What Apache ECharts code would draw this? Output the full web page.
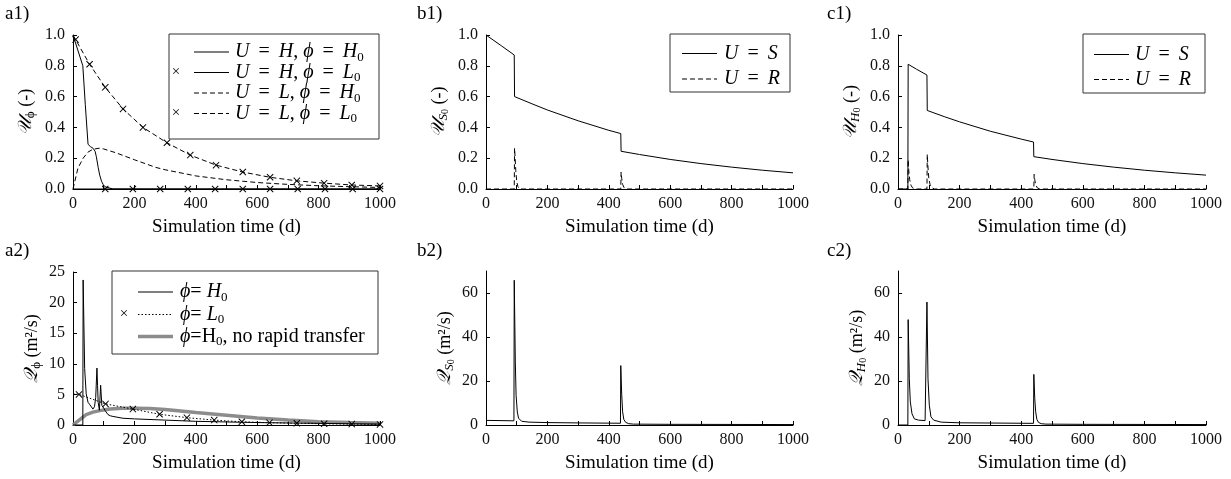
<!DOCTYPE html>
<html>
<head>
<meta charset="utf-8">
<script src="https://cdn.jsdelivr.net/npm/echarts@6/dist/echarts.min.js"></script>
<style>
  html, body { margin: 0; padding: 0; background: #fff; }
  #chart { width: 1231px; height: 479px; }
</style>
</head>
<body>
<div id="chart"></div>
<script>
// ---- data (time in days) ----
// a1) U_phi
const a1_t_HH = [0, 32, 40, 49, 57, 65, 72, 76, 82, 87, 93, 98, 104, 110, 130, 1000];
const a1_v_HH = [1.0, 0.80, 0.55, 0.29, 0.275, 0.265, 0.245, 0.21, 0.14, 0.09, 0.05, 0.03, 0.015, 0.005, 0, 0];
const a1_t_HL = [0, 105, 195, 284, 374, 463, 553, 642, 732, 821, 911, 1000];
const a1_v_HL = [0, 0, 0, 0, 0, 0, 0, 0, 0, 0, 0, 0];
const a1_t_LH = [0, 16, 33, 49, 65, 85, 100, 140, 200, 270, 300, 400, 500, 600, 700, 800, 900, 1000];
const a1_v_LH = [0, 0.135, 0.2, 0.24, 0.258, 0.265, 0.26, 0.235, 0.19, 0.14, 0.125, 0.085, 0.06, 0.042, 0.03, 0.021, 0.015, 0.01];
const a1_t_LL = [0, 8.5, 54, 105, 163, 228, 306, 382, 466, 553, 642, 729, 818, 908, 1000];
const a1_v_LL = [1.0, 0.97, 0.81, 0.66, 0.52, 0.40, 0.30, 0.22, 0.155, 0.11, 0.076, 0.053, 0.038, 0.026, 0.02];

// a2) Q_phi
const a2_t_H0 = [0, 32, 33, 38, 43, 49, 55, 60, 65, 70, 74, 78, 80, 82, 86, 90, 94, 100, 104, 108, 114, 122, 130, 163, 200, 300, 400, 500, 600, 700, 800, 900, 1000];
const a2_v_H0 = [0, 0, 23.7, 9.2, 5.1, 3.7, 3.3, 3.2, 2.6, 3.0, 4.5, 9.3, 6.5, 3.7, 2.4, 6.5, 3.2, 2.8, 2.4, 2.1, 1.7, 1.5, 1.4, 1.1, 1.0, 0.8, 0.6, 0.5, 0.4, 0.33, 0.27, 0.2, 0.15];
const a2_t_L0 = [0, 19.5, 106, 195, 282, 371, 460, 550, 640, 729, 818, 908, 1000];
const a2_v_L0 = [5.1, 5.0, 3.45, 2.6, 1.75, 1.2, 0.8, 0.52, 0.38, 0.29, 0.2, 0.15, 0.1];
const a2_t_NR = [0, 20, 43, 65, 87, 120, 160, 200, 250, 300, 400, 500, 600, 700, 800, 900, 1000];
const a2_v_NR = [0, 0.8, 1.7, 2.1, 2.35, 2.6, 2.72, 2.75, 2.7, 2.55, 2.05, 1.6, 1.15, 0.8, 0.55, 0.4, 0.3];

// b1) U_S0
const b1_t_S = [0, 50, 92, 93, 150, 200, 300, 400, 439, 440, 500, 600, 700, 800, 900, 1000];
const b1_v_S = [1.0, 0.93, 0.87, 0.60, 0.553, 0.513, 0.443, 0.381, 0.36, 0.245, 0.224, 0.192, 0.165, 0.142, 0.122, 0.105];
const b1_t_R = [0, 92, 93, 95, 97, 100, 104, 110, 439, 440, 442, 445, 450, 458, 1000];
const b1_v_R = [0, 0, 0.265, 0.2, 0.12, 0.05, 0.015, 0, 0, 0.11, 0.07, 0.03, 0.008, 0, 0];

// b2) Q_S0
const b2_t = [0, 91, 92, 95.5, 98, 102, 106, 116, 140, 200, 300, 438, 439, 442, 445, 449, 455, 465, 480, 600, 800, 1000];
const b2_v = [2.1, 1.9, 65.8, 28.6, 13.5, 5.9, 3.1, 1.7, 1.3, 1.1, 0.95, 0.8, 27, 14, 6, 2.5, 1.2, 0.6, 0.4, 0.3, 0.25, 0.2];

// c1) U_H0
const c1_t_S = [0, 32, 33, 60, 94, 95, 150, 200, 300, 400, 440, 441, 500, 600, 700, 800, 900, 1000];
const c1_v_S = [0, 0, 0.81, 0.778, 0.74, 0.51, 0.47, 0.436, 0.375, 0.324, 0.305, 0.21, 0.192, 0.165, 0.142, 0.122, 0.105, 0.09];
const c1_t_R = [0, 32, 33, 35, 38, 42, 47, 55, 94, 95, 97, 100, 104, 110, 118, 441, 442, 444, 447, 452, 460, 1000];
const c1_v_R = [0, 0, 0.19, 0.12, 0.06, 0.025, 0.008, 0, 0, 0.225, 0.15, 0.07, 0.03, 0.008, 0, 0, 0.095, 0.06, 0.03, 0.008, 0, 0];

// c2) Q_H0
const c2_t = [0, 32, 33, 36.7, 40, 45.5, 53, 67, 88, 93, 94, 97.4, 101.7, 107, 116, 140, 200, 300, 440, 441, 444, 447, 451, 456, 465, 480, 600, 800, 1000];
const c2_v = [0, 0, 47.9, 21, 10.5, 5.1, 2.8, 2.2, 2.0, 1.9, 55.9, 21, 9, 3.7, 2.2, 1.3, 1.0, 0.9, 0.75, 23, 12, 6, 2.5, 1.2, 0.6, 0.4, 0.3, 0.25, 0.2];

// axis ticks
const xTicks = [0, 200, 400, 600, 800, 1000];
const uTicks = [0, 0.2, 0.4, 0.6, 0.8, 1.0];
const qaTicks = [0, 5, 10, 15, 20, 25];
const qTicks = [0, 20, 40, 60];

const SERIF = '"Liberation Serif", "Times New Roman", serif';
const MATH = '"DejaVu Serif", "DejaVu Sans", "Liberation Serif", serif';
const CROSS = 'path://M0,1L1,0L5,4L9,0L10,1L6,5L10,9L9,10L5,6L1,10L0,9L4,5Z';
const DASH = [5, 3];
const DOT = [1.5, 2];
const EQ = ' \u2009=\u2009 ';

const RICH = {
  i: { fontFamily: SERIF, fontStyle: 'italic', fontSize: 20, lineHeight: 24, color: '#000' },
  r: { fontFamily: SERIF, fontSize: 20, lineHeight: 24, color: '#000' },
  s: { fontFamily: SERIF, fontSize: 13, lineHeight: 14, verticalAlign: 'bottom', color: '#000' },
  c: { fontFamily: MATH, fontStyle: 'italic', fontSize: 19, lineHeight: 22, color: '#000' },
  si: { fontFamily: SERIF, fontStyle: 'italic', fontSize: 13, lineHeight: 14, verticalAlign: 'bottom', color: '#000' },
  ss: { fontFamily: SERIF, fontSize: 10, lineHeight: 11, verticalAlign: 'bottom', color: '#000' },
  n: { fontFamily: SERIF, fontSize: 18, lineHeight: 22, color: '#000' }
};

const pairs = (t, v, noFirstMark) => t.map((x, i) => (noFirstMark && i === 0) ? { value: [x, v[i]], symbol: 'none' } : [x, v[i]]);

const grids = [
  { left: 73, top: 35, width: 307, height: 154 },   // a1
  { left: 486, top: 35, width: 307, height: 154 },  // b1
  { left: 898, top: 35, width: 308, height: 154 },  // c1
  { left: 73, top: 272, width: 307, height: 153 },  // a2
  { left: 486, top: 271, width: 307, height: 154 }, // b2
  { left: 898, top: 271, width: 308, height: 154 }  // c2
];

const axisBase = {
  axisLine: { show: true, onZero: false, lineStyle: { color: '#000', width: 1 } },
  axisTick: { show: true, inside: true, length: 4, lineStyle: { color: '#000' } },
  splitLine: { show: false },
  axisLabel: { fontFamily: SERIF, fontSize: 16, color: '#111' }
};

const xAxes = grids.map((g, i) => ({
  ...axisBase,
  type: 'value', gridIndex: i, min: 0, max: 1000, interval: 100,
  axisLabel: { ...axisBase.axisLabel, margin: 7, customValues: xTicks, formatter: v => String(v) },
  name: 'Simulation time (d)', nameLocation: 'middle', nameGap: 29,
  nameTextStyle: { fontFamily: SERIF, fontSize: 19, color: '#000' }
}));

const yNames = [
  '{c|𝒰}{s|ϕ}{n| (-)}',
  '{c|𝒰}{si|S}{ss|0}{n| (-)}',
  '{c|𝒰}{si|H}{ss|0}{n| (-)}',
  '{c|𝒬}{s|ϕ}{n| (m²/s)}',
  '{c|𝒬}{si|S}{ss|0}{n| (m²/s)}',
  '{c|𝒬}{si|H}{ss|0}{n| (m²/s)}'
];
const yRange = [
  { max: 1, ticks: uTicks, fmt: v => v.toFixed(1) },
  { max: 1, ticks: uTicks, fmt: v => v.toFixed(1) },
  { max: 1, ticks: uTicks, fmt: v => v.toFixed(1) },
  { max: 25, ticks: qaTicks, fmt: v => String(v) },
  { max: 70, ticks: qTicks, fmt: v => String(v) },
  { max: 70, ticks: qTicks, fmt: v => String(v) }
];

const yAxes = grids.map((g, i) => ({
  ...axisBase,
  type: 'value', gridIndex: i, min: 0, max: yRange[i].max,
  axisTick: { ...axisBase.axisTick, customValues: yRange[i].ticks },
  axisLabel: { ...axisBase.axisLabel, margin: 8, customValues: yRange[i].ticks, formatter: yRange[i].fmt },
  name: yNames[i], nameLocation: 'middle', nameRotate: 90, nameGap: i < 3 ? 36 : 30,
  nameTextStyle: { fontFamily: SERIF, fontSize: 18, color: '#000', rich: RICH }
}));

function line(gi, t, v, o) {
  o = o || {};
  return {
    type: 'line', xAxisIndex: gi, yAxisIndex: gi,
    data: pairs(t, v, !!o.mark),
    showSymbol: !!o.mark, symbol: o.mark ? CROSS : 'none', symbolSize: 7,
    itemStyle: { color: '#000', borderWidth: 0 },
    lineStyle: { color: o.color || '#000', width: o.width || 1, type: o.dash || 'solid' },
    silent: true, z: o.z || 3
  };
}

const series = [
  line(0, a1_t_HH, a1_v_HH),
  line(0, a1_t_HL, a1_v_HL, { mark: true }),
  line(0, a1_t_LH, a1_v_LH, { dash: DASH }),
  line(0, a1_t_LL, a1_v_LL, { dash: DASH, mark: true }),
  line(3, a2_t_NR, a2_v_NR, { color: '#8c8c8c', width: 3.5, z: 2 }),
  line(3, a2_t_H0, a2_v_H0),
  line(3, a2_t_L0, a2_v_L0, { dash: DOT, mark: true }),
  line(1, b1_t_S, b1_v_S),
  line(1, b1_t_R, b1_v_R, { dash: DASH }),
  line(4, b2_t, b2_v),
  line(2, c1_t_S, c1_v_S),
  line(2, c1_t_R, c1_v_R, { dash: DASH }),
  line(5, c2_t, c2_v)
];

// legend boxes drawn as graphics
function legend(box, rows) {
  const els = [{
    type: 'rect', shape: { x: box.x, y: box.y, width: box.w, height: box.h },
    style: { fill: '#fff', stroke: '#333', lineWidth: 1 }, z: 10
  }];
  rows.forEach(r => {
    els.push({
      type: 'line', shape: { x1: r.x1, y1: r.y, x2: r.x2, y2: r.y },
      style: { stroke: r.color || '#000', lineWidth: r.width || 1, lineDash: r.dash || null }, z: 11
    });
    if (r.mark) {
      els.push({ type: 'text', x: r.mx, y: r.y, style: { text: '×', font: '15px ' + SERIF, fill: '#000', align: 'center', verticalAlign: 'middle' }, z: 11 });
    }
    els.push({ type: 'text', x: r.tx, y: r.y, style: { text: r.text, rich: RICH, fill: '#000', verticalAlign: 'middle', font: '20px ' + SERIF }, z: 11 });
  });
  return els;
}

const graphic = [].concat(
  legend({ x: 169, y: 34, w: 210, h: 105 }, [
    { y: 52, x1: 194, x2: 229, tx: 235, text: '{i|U}{r|' + EQ + '}{i|H}{r|, }{i|ϕ}{r|' + EQ + '}{i|H}{s|0}' },
    { y: 72.5, x1: 194, x2: 229, tx: 235, mark: true, mx: 176, text: '{i|U}{r|' + EQ + '}{i|H}{r|, }{i|ϕ}{r|' + EQ + '}{i|L}{s|0}' },
    { y: 93, x1: 194, x2: 229, tx: 235, dash: DASH, text: '{i|U}{r|' + EQ + '}{i|L}{r|, }{i|ϕ}{r|' + EQ + '}{i|H}{s|0}' },
    { y: 113.5, x1: 194, x2: 229, tx: 235, dash: DASH, mark: true, mx: 176, text: '{i|U}{r|' + EQ + '}{i|L}{r|, }{i|ϕ}{r|' + EQ + '}{i|L}{s|0}' }
  ]),
  legend({ x: 112, y: 271, w: 266, h: 83 }, [
    { y: 292, x1: 138, x2: 173, tx: 180, text: '{i|ϕ}{r|= }{i|H}{s|0}' },
    { y: 314.5, x1: 138, x2: 173, tx: 180, dash: DOT, mark: true, mx: 124, text: '{i|ϕ}{r|= }{i|L}{s|0}' },
    { y: 336.5, x1: 138, x2: 173, tx: 180, color: '#8c8c8c', width: 3.5, text: '{i|ϕ}{r|=H}{s|0}{r|, no rapid transfer}' }
  ]),
  legend({ x: 670, y: 34, w: 120, h: 58 }, [
    { y: 53.5, x1: 682, x2: 717, tx: 724, text: '{i|U}{r|' + EQ + '}{i|S}' },
    { y: 79, x1: 682, x2: 717, tx: 724, dash: DASH, text: '{i|U}{r|' + EQ + '}{i|R}' }
  ]),
  legend({ x: 1083, y: 34, w: 122, h: 59 }, [
    { y: 54.5, x1: 1094, x2: 1129, tx: 1135, text: '{i|U}{r|' + EQ + '}{i|S}' },
    { y: 79.5, x1: 1094, x2: 1129, tx: 1135, dash: DASH, text: '{i|U}{r|' + EQ + '}{i|R}' }
  ]),
  [['a1)', 5, 14], ['b1)', 417, 14], ['c1)', 827, 14], ['a2)', 5, 251], ['b2)', 417, 251], ['c2)', 827, 251]].map(p => ({
    type: 'text', x: p[1], y: p[2],
    style: { text: p[0], font: '19px ' + SERIF, fill: '#000', verticalAlign: 'middle' }
  }))
);

const chart = echarts.init(document.getElementById('chart'), null, { renderer: 'canvas' });
chart.setOption({
  animation: false,
  backgroundColor: '#fff',
  grid: grids,
  xAxis: xAxes,
  yAxis: yAxes,
  series: series,
  graphic: graphic
});
</script>
</body>
</html>
